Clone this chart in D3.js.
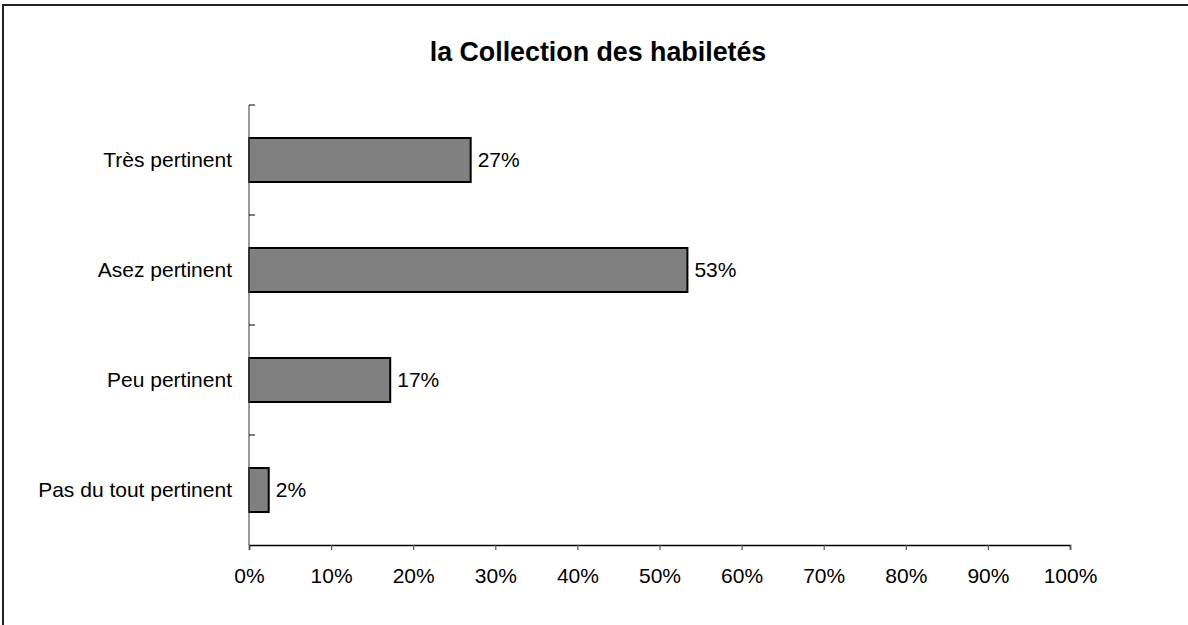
<!DOCTYPE html>
<html>
<head>
<meta charset="utf-8">
<script src="https://cdn.jsdelivr.net/npm/d3@7"></script>
<style>
  html, body { margin: 0; padding: 0; background: #fff; }
  svg { display: block; font-family: "Liberation Sans", Arial, sans-serif; }
</style>
</head>
<body>
<svg id="chart" width="1188" height="625"></svg>
<script>
const title = "la Collection des habiletés";
const categories = ["Très pertinent", "Asez pertinent", "Peu pertinent", "Pas du tout pertinent"];
const values = [27.0, 53.4, 17.2, 2.4];
const xTicks = [0, 10, 20, 30, 40, 50, 60, 70, 80, 90, 100];

const svg = d3.select("#chart");

// outer frame (extends beyond right/bottom edges)
svg.append("rect")
  .attr("x", 3).attr("y", 5)
  .attr("width", 1200).attr("height", 640)
  .attr("fill", "#fff").attr("stroke", "#222").attr("stroke-width", 2);

const plotLeft = 249, plotRight = 1070, plotTop = 105, plotBottom = 545;

const x = d3.scaleLinear().domain([0, 100]).range([plotLeft, plotRight]);
const y = d3.scaleBand().domain(categories).range([plotTop, plotBottom])
  .paddingInner(0.6).paddingOuter(0.3);

// title
svg.append("text")
  .attr("x", 598).attr("y", 61)
  .attr("text-anchor", "middle")
  .attr("font-weight", "bold")
  .attr("font-size", 26.8)
  .attr("fill", "#000")
  .text(title);

// bars
svg.append("g").selectAll("rect")
  .data(categories)
  .join("rect")
  .attr("x", x(0))
  .attr("y", d => y(d))
  .attr("width", (d, i) => x(values[i]) - x(0))
  .attr("height", y.bandwidth())
  .attr("fill", "#808080")
  .attr("stroke", "#000")
  .attr("stroke-width", 2);

// value labels
svg.append("g").selectAll("text")
  .data(categories)
  .join("text")
  .attr("x", (d, i) => x(values[i]) + 7)
  .attr("y", d => y(d) + y.bandwidth() / 2)
  .attr("dy", "0.35em")
  .attr("font-size", 21)
  .attr("fill", "#000")
  .text((d, i) => Math.round(values[i]) + "%");

// y axis: line with ticks at band boundaries
const yAxisG = svg.append("g");
yAxisG.append("line")
  .attr("x1", plotLeft).attr("x2", plotLeft)
  .attr("y1", plotTop).attr("y2", plotBottom)
  .attr("stroke", "#555").attr("stroke-width", 1.2);
const tickYs = categories.map((c, i) => plotTop + i * y.step());
yAxisG.selectAll("line.tick")
  .data(tickYs)
  .join("line")
  .attr("class", "tick")
  .attr("x1", plotLeft).attr("x2", plotLeft + 6)
  .attr("y1", d => d).attr("y2", d => d)
  .attr("stroke", "#000").attr("stroke-width", 1);

// category labels
yAxisG.selectAll("text")
  .data(categories)
  .join("text")
  .attr("x", plotLeft - 17)
  .attr("y", d => y(d) + y.bandwidth() / 2)
  .attr("dy", "0.35em")
  .attr("text-anchor", "end")
  .attr("font-size", 21)
  .attr("fill", "#000")
  .text(d => d);

// x axis
const xAxis = d3.axisBottom(x)
  .tickValues(xTicks)
  .tickSize(5)
  .tickPadding(18)
  .tickFormat(d => d + "%");
const xg = svg.append("g")
  .attr("transform", `translate(0,${plotBottom})`)
  .call(xAxis);
xg.select(".domain").attr("stroke", "#000").attr("stroke-width", 1.5);
xg.selectAll(".tick line").attr("stroke", "#555").attr("stroke-width", 1.2);
xg.selectAll(".tick text")
  .attr("font-size", 21)
  .attr("font-family", "Liberation Sans, Arial, sans-serif")
  .attr("fill", "#000");
</script>
</body>
</html>
